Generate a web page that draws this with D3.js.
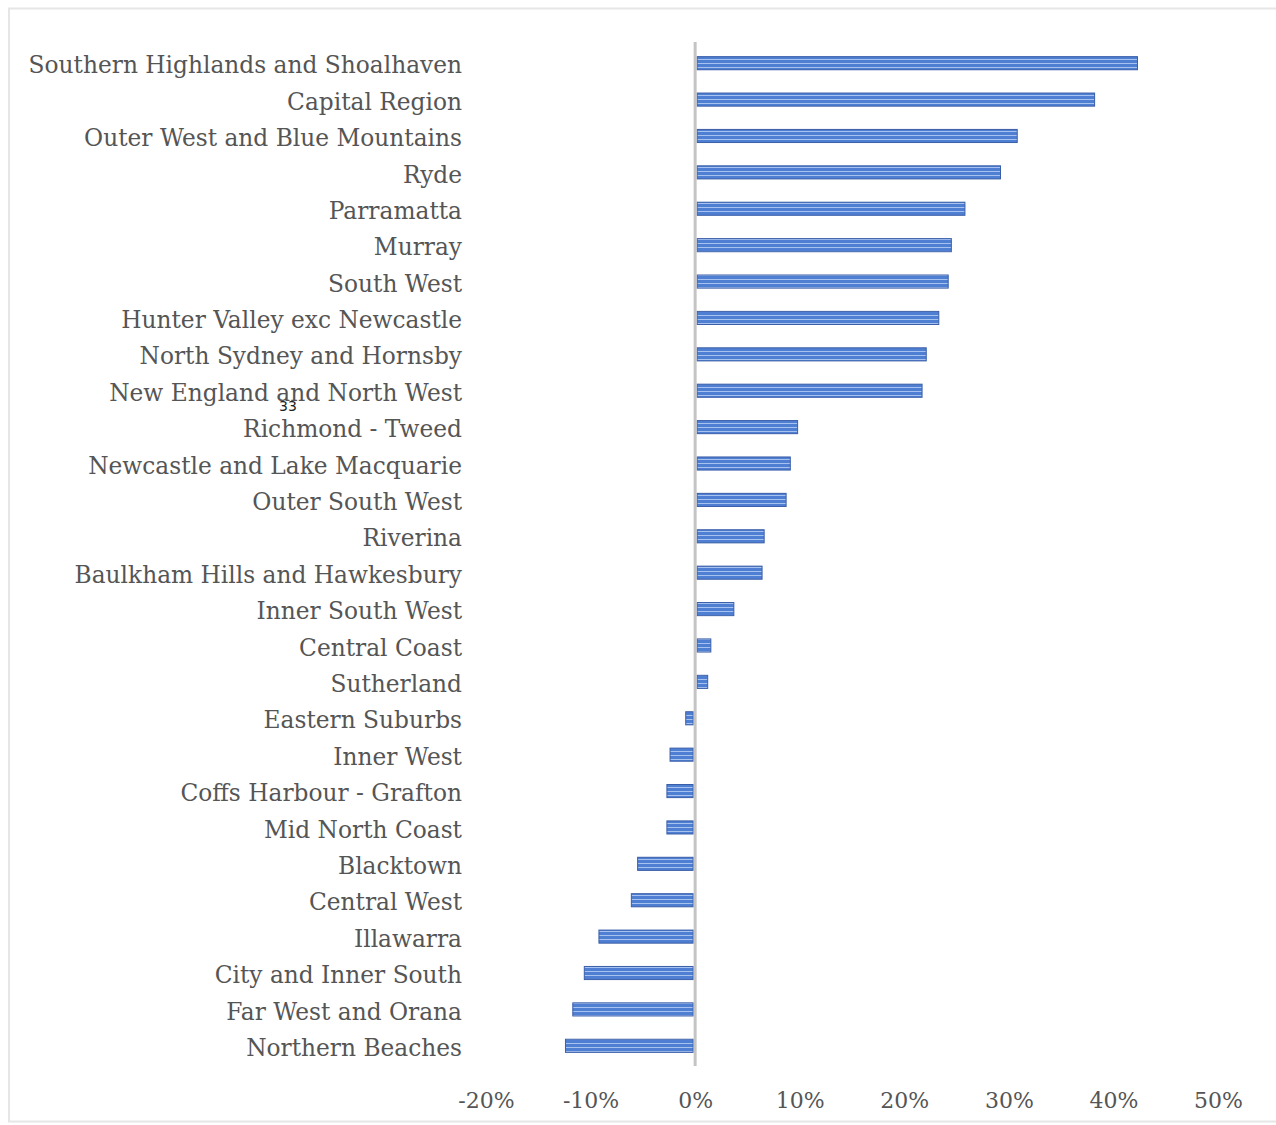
<!DOCTYPE html>
<html><head><meta charset="utf-8">
<script src="https://cdn.jsdelivr.net/npm/d3@7"></script>
<style>
body{margin:0;background:#fff;}
svg{display:block;}
</style></head>
<body>
<script>
const categories = ["Southern Highlands and Shoalhaven","Capital Region","Outer West and Blue Mountains","Ryde","Parramatta","Murray","South West","Hunter Valley exc Newcastle","North Sydney and Hornsby","New England and North West","Richmond - Tweed","Newcastle and Lake Macquarie","Outer South West","Riverina","Baulkham Hills and Hawkesbury","Inner South West","Central Coast","Sutherland","Eastern Suburbs","Inner West","Coffs Harbour - Grafton","Mid North Coast","Blacktown","Central West","Illawarra","City and Inner South","Far West and Orana","Northern Beaches"];
const values = [0.423,0.382,0.308,0.292,0.258,0.245,0.242,0.233,0.221,0.217,0.098,0.091,0.087,0.066,0.064,0.037,0.015,0.012,-0.009,-0.024,-0.027,-0.027,-0.055,-0.061,-0.092,-0.106,-0.117,-0.124];
const tickValues = [-0.2,-0.1,0,0.1,0.2,0.3,0.4,0.5];

const W = 1276, H = 1125;
const svg = d3.select("body").append("svg").attr("width", W).attr("height", H);

// frame
svg.append("rect").attr("x", 9).attr("y", 8.5).attr("width", 1300).attr("height", 1113)
  .attr("fill", "none").attr("stroke", "#e6e6e6").attr("stroke-width", 2);

const defs = svg.append("defs");
const pat = defs.append("pattern").attr("id", "stripes").attr("patternUnits", "userSpaceOnUse")
  .attr("width", 8).attr("height", 4);
pat.append("rect").attr("width", 8).attr("height", 4).attr("fill", "#4f7fd3");
pat.append("rect").attr("y", 3).attr("width", 8).attr("height", 1).attr("fill", "#a8c2f0");

const x = d3.scaleLinear().domain([-0.2, 0.5]).range([486, 1218]);
const y = d3.scaleBand().domain(categories).range([45, 1064]).paddingInner(0.64).paddingOuter(0.32);

const data = categories.map((c, i) => ({c, v: values[i]}));

svg.append("g").selectAll("rect").data(data).join("rect")
  .attr("x", d => d.v >= 0 ? x(0) + 2 : x(d.v))
  .attr("width", d => Math.abs(x(d.v) - x(0)) - 2)
  .attr("y", d => y(d.c))
  .attr("height", y.bandwidth())
  .attr("fill", "url(#stripes)")
  .attr("stroke", "#3a5ea8").attr("stroke-width", 1);

// zero axis line
svg.append("line").attr("x1", x(0)).attr("x2", x(0)).attr("y1", 42).attr("y2", 1066)
  .attr("stroke", "#c4c4c4").attr("stroke-width", 3);

// category labels
svg.append("g").selectAll("text").data(data).join("text")
  .attr("x", 462).attr("y", d => y(d.c) + y.bandwidth() / 2 + 2)
  .attr("dy", "0.35em").attr("text-anchor", "end")
  .attr("font-family", "DejaVu Serif").attr("font-size", 23.3).attr("fill", "#555")
  .text(d => d.c);

// x axis tick labels
const xAxis = d3.axisBottom(x).tickValues(tickValues).tickFormat(d3.format(".0%")).tickSize(0).tickPadding(0);
const gx = svg.append("g").attr("transform", "translate(0,1100)").call(xAxis);
gx.select(".domain").remove();
gx.selectAll("text").attr("dy", "0.35em").attr("font-family", "DejaVu Serif").attr("font-size", 22).attr("fill", "#555")
  .text(d => d3.format(".0%")(d).replace("−", "-"));

// stray page number
svg.append("text").attr("x", 288).attr("y", 411).attr("text-anchor", "middle")
  .attr("font-family", "DejaVu Sans").attr("font-size", 14).attr("fill", "#222").text("33");
</script>
</body></html>
